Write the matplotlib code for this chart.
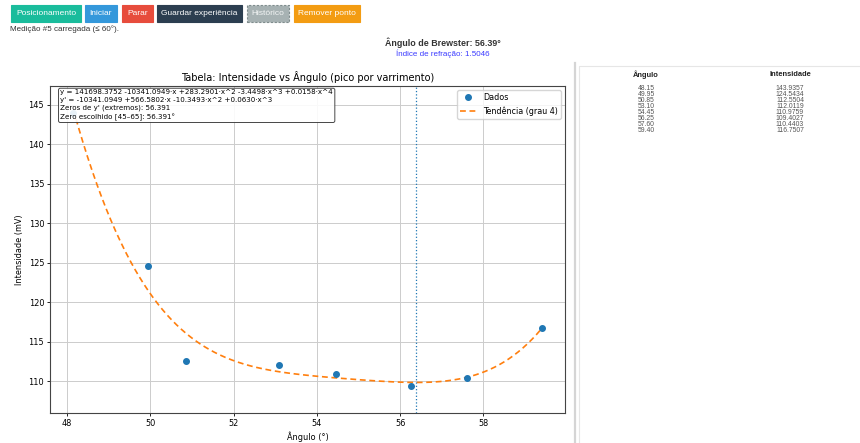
import matplotlib.pyplot as plt
import numpy as np
from matplotlib.patches import Rectangle

W, H = 860, 443

# measurement data (table on the right)
angles = [48.15, 49.95, 50.85, 53.10, 54.45, 56.25, 57.60, 59.40]
intensity = [143.9357, 124.5434, 112.5504, 112.0119, 110.9759, 109.4027, 110.4403, 116.7507]
brewster = 56.391
refr_index = 1.5046
fit_degree = 4

fit_lines = [
    "y = 141698.3752 -10341.0949·x +283.2901·x^2 -3.4498·x^3 +0.0158·x^4",
    "y' = -10341.0949 +566.5802·x -10.3493·x^2 +0.0630·x^3",
    "Zeros de y' (extremos): 56.391",
    "Zero escolhido [45–65]: 56.391°",
]

button_labels = ["Posicionamento", "Iniciar", "Parar", "Guardar experiência", "Histórico", "Remover ponto"]
button_colors = ["#1abc9c", "#3498db", "#e74c3c", "#2c3e50", "#a7b2b3", "#f39c12"]
button_spans = [(11, 81), (85, 117), (122, 153), (157, 242), (247, 289), (294, 360)]

UI_FONT = ["Liberation Sans", "DejaVu Sans"]


def px(x, y):
    return x / W, 1 - y / H


def draw_header(fig):
    for label, color, (x0, x1) in zip(button_labels, button_colors, button_spans):
        dashed = label == "Histórico"
        rect = Rectangle(px(x0, 22), (x1 - x0) / W, 17 / H, transform=fig.transFigure,
                         facecolor=color, edgecolor="#7f8c8d" if dashed else color,
                         linestyle=(0, (2, 1.5)) if dashed else "-", linewidth=0.8)
        fig.add_artist(rect)
        fig.text(*px((x0 + x1) / 2, 13.5), label, ha="center", va="center", color="#f4f6f6" if dashed else "white",
                 fontsize=6.0, family=UI_FONT)

    fig.text(*px(10, 29.5), "Medição #5 carregada (≤ 60°).", ha="left", va="center",
             color="#333333", fontsize=5.8, family=UI_FONT)
    fig.text(*px(443, 43), f"Ângulo de Brewster: {brewster:.2f}°", ha="center", va="center",
             color="#333333", fontsize=6.4, fontweight="bold", family=UI_FONT)
    fig.text(*px(443, 54), f"Índice de refração: {refr_index:.4f}", ha="center", va="center",
             color="#3a3aff", fontsize=5.8, family=UI_FONT)


def draw_table(fig):
    fig.add_artist(plt.Line2D([575 / W, 575 / W], [0, 1 - 63 / H], transform=fig.transFigure,
                              color="#d5d5d5", linewidth=1.6))
    fig.add_artist(plt.Line2D([579 / W, 579 / W, 1], [0, 1 - 66 / H, 1 - 66 / H], transform=fig.transFigure,
                              color="#e6e6e6", linewidth=0.8))
    fig.text(*px(646, 75), "Ângulo", ha="center", va="center", fontsize=5.4,
             fontweight="bold", color="#222222", family=UI_FONT)
    fig.text(*px(790, 75), "Intensidade", ha="center", va="center", fontsize=5.4,
             fontweight="bold", color="#222222", family=UI_FONT)
    for i, (a, v) in enumerate(zip(angles, intensity)):
        y = 89 + i * 5.95
        fig.text(*px(646, y), f"{a:.2f}", ha="center", va="center", fontsize=4.9,
                 color="#555555", family=UI_FONT)
        fig.text(*px(790, y), f"{v:.4f}", ha="center", va="center", fontsize=4.9,
                 color="#555555", family=UI_FONT)


def plot_chart(fig):
    ax = fig.add_axes([50 / W, 1 - 413.3 / H, 515 / W, 327.3 / H])
    x = np.array(angles)
    y = np.array(intensity)

    coefs = np.polyfit(x, y, fit_degree)
    xs = np.linspace(x.min(), x.max(), 300)
    ax.plot(x, y, "o", color="C0", markersize=4, label="Dados", zorder=3)
    ax.plot(xs, np.polyval(coefs, xs), "--", color="C1", linewidth=1.2,
            dashes=(3.5, 2.2), label=f"Tendência (grau {fit_degree})", zorder=2)
    ax.axvline(brewster, color="C0", linestyle=":", linewidth=0.9)

    span = y.max() - y.min()
    ax.set_ylim(y.min() - 0.1 * span, y.max() + 0.1 * span)
    ax.set_xticks([48, 50, 52, 54, 56, 58])

    ax.set_title("Tabela: Intensidade vs Ângulo (pico por varrimento)", fontsize=7.0, pad=3.5)
    ax.set_xlabel("Ângulo (°)", fontsize=5.9, labelpad=2.5)
    ax.set_ylabel("Intensidade (mV)", fontsize=5.9, labelpad=3)
    ax.tick_params(labelsize=5.9, length=2.2, width=0.6, pad=2)
    ax.grid(True, color="#cccccc", linewidth=0.7)
    for s in ax.spines.values():
        s.set_linewidth(0.8)
        s.set_color("#444444")

    ax.legend(loc="upper right", fontsize=5.8, framealpha=0.8, borderpad=0.4, handlelength=2.0)
    ax.text(0.02, 0.99, "\n".join(fit_lines), transform=ax.transAxes, va="top", ha="left",
            fontsize=5.1, linespacing=1.35, zorder=5,
            bbox=dict(boxstyle="round,pad=0.25", facecolor="white", edgecolor="#333333",
                      linewidth=0.7, alpha=0.9))


def main():
    fig = plt.figure(figsize=(W / 100, H / 100), dpi=100)
    draw_header(fig)
    draw_table(fig)
    plot_chart(fig)
    fig.savefig("out.png", dpi=100)


if __name__ == "__main__":
    main()
